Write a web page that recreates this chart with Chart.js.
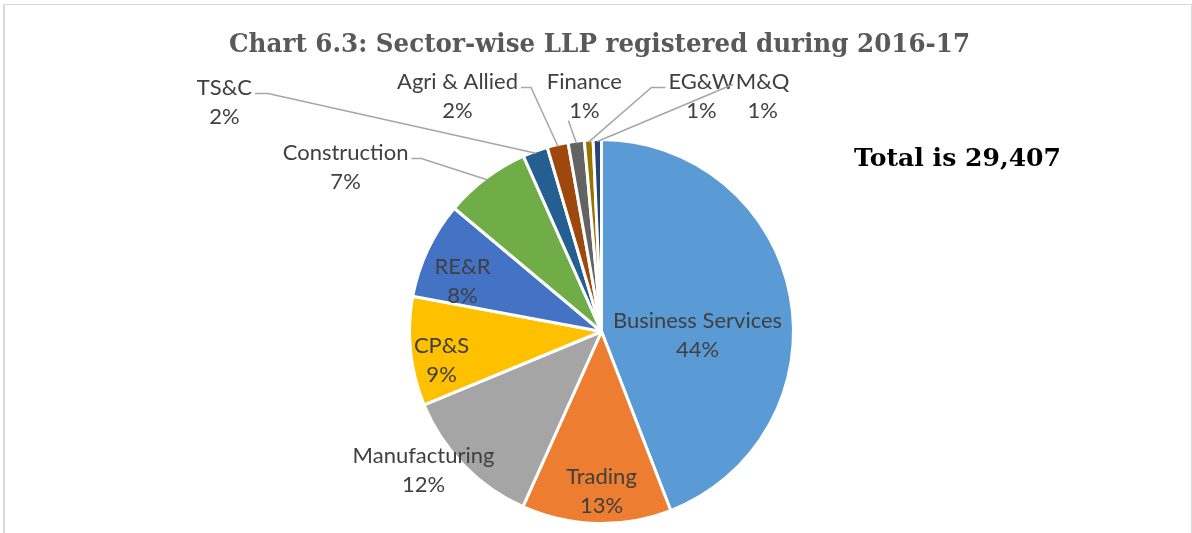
<!DOCTYPE html>
<html>
<head>
<meta charset="utf-8">
<script src="https://cdn.jsdelivr.net/npm/chart.js@4.4.0/dist/chart.umd.min.js"></script>
<style>
  html, body { margin: 0; padding: 0; background: #fff; overflow: hidden; }
  #frame { position: absolute; left: 3px; top: 4px; width: 1186px; height: 540px;
           border-left: 2px solid #d9d9d9; border-top: 1px solid #d9d9d9; border-right: 1px solid #d9d9d9; }
  #pie { position: absolute; left: 0; top: 0; }
</style>
</head>
<body>
<div id="frame"></div>
<canvas id="pie" width="1192" height="533"></canvas>
<script>
// sector-wise LLP registered during 2016-17
var sectors = ['Business Services', 'Trading', 'Manufacturing', 'CP&S', 'RE&R', 'Construction',
               'TS&C', 'Agri & Allied', 'Finance', 'EG&W', 'M&Q'];
var llpCount = [12977, 3700, 3540, 2700, 2400, 2130, 620, 520, 400, 215, 205];
var sliceColors = ['#5B9BD5', '#ED7D31', '#A5A5A5', '#FFC000', '#4472C4', '#70AD47',
                   '#255E91', '#9E480E', '#636363', '#997300', '#264478'];
var chartTitle = 'Chart 6.3: Sector-wise LLP registered during 2016-17';
var totalText = 'Total is 29,407';

// where each data label sits, in units of the pie radius from its centre
var labelPos = {
  'Business Services': { dx: 0.50,  dy: 0.02 },
  'Trading':           { dx: 0.0,   dy: 0.833 },
  'Manufacturing':     { dx: -0.927, dy: 0.724 },
  'CP&S':              { dx: -0.833, dy: 0.151 },
  'RE&R':              { dx: -0.724, dy: -0.26 },
  'Construction':      { dx: -1.333, dy: -0.854, lead: 'right', stub: 10 },
  'TS&C':              { dx: -1.964, dy: -1.193, lead: 'right', stub: 13 },
  'Agri & Allied':     { dx: -0.75,  dy: -1.224, lead: 'right', stub: 10 },
  'Finance':           { dx: -0.089, dy: -1.224, lead: 'bottom' },
  'EG&W':              { dx: 0.521,  dy: -1.224, lead: 'left', stub: 14 },
  'M&Q':               { dx: 0.839,  dy: -1.224, lead: 'left', stub: 0, lift: 3 }
};

function fitText(ctx, txt, x, y, w) {
  var m = ctx.measureText(txt).width;
  ctx.save();
  ctx.translate(x, y);
  ctx.scale(w / m, 1);
  ctx.fillText(txt, 0, 0);
  ctx.restore();
}

var labelPlugin = {
  id: 'sliceLabels',
  afterDatasetsDraw: function(chart) {
    var ctx = chart.ctx;
    var meta = chart.getDatasetMeta(0);
    var data = chart.data.datasets[0].data;
    var total = data.reduce(function(a, b) { return a + b; }, 0);
    ctx.save();
    meta.data.forEach(function(arc, i) {
      var p = arc.getProps(['x', 'y', 'startAngle', 'endAngle', 'outerRadius'], true);
      var R = p.outerRadius;
      var pos = labelPos[sectors[i]];
      var cx = p.x + pos.dx * R, cy = p.y + pos.dy * R;
      var pct = Math.round(data[i] / total * 100) + '%';
      ctx.font = '22px Lato';
      ctx.fillStyle = '#404040';
      ctx.textAlign = 'center';
      ctx.textBaseline = 'middle';
      ctx.fillText(sectors[i], cx, cy - 14.5);
      ctx.fillText(pct, cx, cy + 14.5);
      if (pos.lead) {
        var mid = (p.startAngle + p.endAngle) / 2;
        var tx = p.x + Math.cos(mid) * (R - 2), ty = p.y + Math.sin(mid) * (R - 2);
        var w = ctx.measureText(sectors[i]).width;
        var pts = [];
        var sy = cy - 9 - (pos.lift || 0);
        if (pos.lead === 'right') {
          var sx = cx + w / 2 + 3;
          pts = [[sx, sy], [sx + pos.stub, sy], [tx, ty]];
        } else if (pos.lead === 'left') {
          var lx = cx - w / 2 - 3;
          pts = [[lx, sy], [lx - pos.stub, sy], [tx, ty]];
        } else {
          pts = [[cx - 16, cy + 24], [tx, ty]];
        }
        ctx.strokeStyle = '#A6A6A6';
        ctx.lineWidth = 1.5;
        ctx.beginPath();
        ctx.moveTo(pts[0][0], pts[0][1]);
        for (var k = 1; k < pts.length; k++) ctx.lineTo(pts[k][0], pts[k][1]);
        ctx.stroke();
      }
    });

    // title and total
    ctx.textAlign = 'left';
    ctx.textBaseline = 'alphabetic';
    ctx.font = 'bold 26px "DejaVu Serif"';
    ctx.fillStyle = '#595959';
    fitText(ctx, chartTitle, 229, 52, 741);
    ctx.font = 'bold 24px "DejaVu Serif"';
    ctx.fillStyle = '#000000';
    fitText(ctx, totalText, 854, 166, 207);
    ctx.restore();
  }
};

var ctx = document.getElementById('pie').getContext('2d');
var pieChart = new Chart(ctx, {
  type: 'pie',
  data: {
    labels: sectors,
    datasets: [{
      data: llpCount,
      backgroundColor: sliceColors,
      borderColor: '#ffffff',
      borderWidth: 3
    }]
  },
  options: {
    responsive: false,
    animation: false,
    layout: { padding: { top: 138, bottom: 8, left: 408, right: 397 } },
    plugins: {
      legend: { display: false },
      tooltip: { enabled: false },
      title: { display: false }
    }
  },
  plugins: [labelPlugin]
});
</script>
</body>
</html>
